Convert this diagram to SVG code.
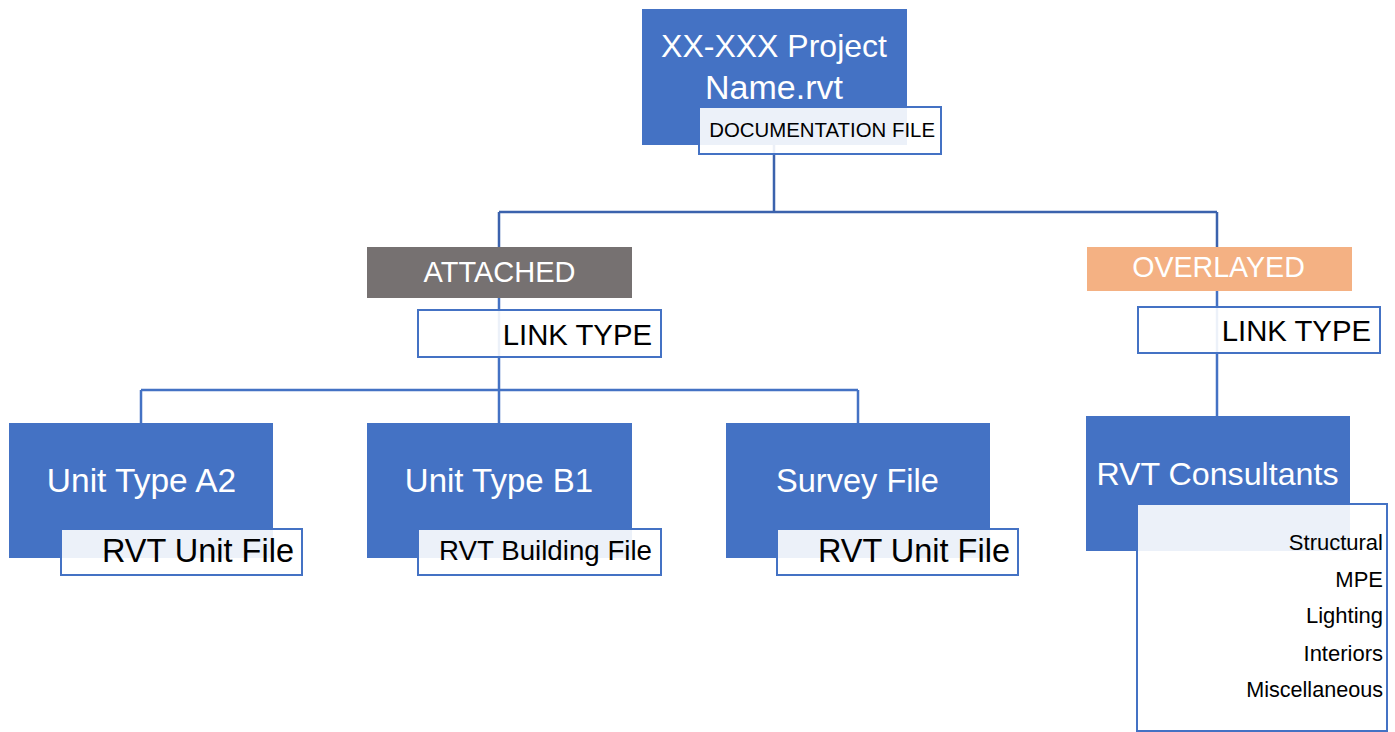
<svg xmlns="http://www.w3.org/2000/svg" width="1395" height="732" viewBox="0 0 1395 732">
<style>
.blue{fill:#4472c4}
.lbl{fill:#ffffff;fill-opacity:0.9;stroke:#4472c4;stroke-width:2}
.conn{stroke:#4472c4;stroke-width:2.5;fill:none}
text{font-family:"Liberation Sans",Arial,sans-serif}
.w{fill:#ffffff}
.k{fill:#000000}
.mid{text-anchor:middle}
.end{text-anchor:end}
</style>
<rect width="1395" height="732" fill="#ffffff"/>
<g id="connectors">
<path class="conn" style="stroke:#3b62ad" d="M774 145V212M499 212H1217M499 212V247M1217 212V247"/>
<path class="conn" d="M499 298V423M141 390H858M141 390V423M858 390V423M1217 291V416"/>
</g>
<g id="project">
<rect class="blue" x="642" y="9" width="265" height="136"/>
<text class="w mid" x="774" y="57" font-size="32">XX-XXX Project</text>
<text class="w mid" x="774" y="99" font-size="34">Name.rvt</text>
<rect class="lbl" x="699" y="107" width="242" height="47"/>
<text class="k end" x="935" y="137" font-size="20.4">DOCUMENTATION FILE</text>
</g>
<g id="attached">
<rect x="367" y="247" width="265" height="51" fill="#767171"/>
<text class="w mid" x="499.5" y="282" font-size="29">ATTACHED</text>
<rect class="lbl" x="418" y="310" width="243" height="47"/>
<text class="k end" x="652" y="345" font-size="29.3">LINK TYPE</text>
</g>
<g id="overlayed">
<rect x="1087" y="247" width="265" height="44" fill="#f4b183"/>
<text class="w mid" x="1218.5" y="277" font-size="28.6">OVERLAYED</text>
<rect class="lbl" x="1138" y="307" width="242" height="46"/>
<text class="k end" x="1371" y="341" font-size="29.3">LINK TYPE</text>
</g>
<g id="unitA2">
<rect class="blue" x="9" y="423" width="264" height="135"/>
<text class="w mid" x="141.5" y="492" font-size="33.5">Unit Type A2</text>
<rect class="lbl" x="61" y="529" width="241" height="46"/>
<text class="k end" x="294" y="562" font-size="32.5">RVT Unit File</text>
</g>
<g id="unitB1">
<rect class="blue" x="367" y="423" width="265" height="135"/>
<text class="w mid" x="499" y="492" font-size="33">Unit Type B1</text>
<rect class="lbl" x="418" y="529" width="243" height="46"/>
<text class="k end" x="652" y="560" font-size="27.7">RVT Building File</text>
</g>
<g id="survey">
<rect class="blue" x="726" y="423" width="264" height="135"/>
<text class="w mid" x="857.5" y="492" font-size="32.6">Survey File</text>
<rect class="lbl" x="777" y="529" width="241" height="46"/>
<text class="k end" x="1010" y="562" font-size="32.5">RVT Unit File</text>
</g>
<g id="consultants">
<rect class="blue" x="1086" y="416" width="264" height="135"/>
<text class="w mid" x="1217.5" y="485" font-size="32.2">RVT Consultants</text>
<rect class="lbl" x="1137" y="504" width="250" height="227"/>
<text class="k end" x="1383" y="550" font-size="22">Structural</text>
<text class="k end" x="1383" y="587" font-size="22">MPE</text>
<text class="k end" x="1383" y="623" font-size="22">Lighting</text>
<text class="k end" x="1383" y="661" font-size="22">Interiors</text>
<text class="k end" x="1383" y="697" font-size="21.6">Miscellaneous</text>
</g>
</svg>
